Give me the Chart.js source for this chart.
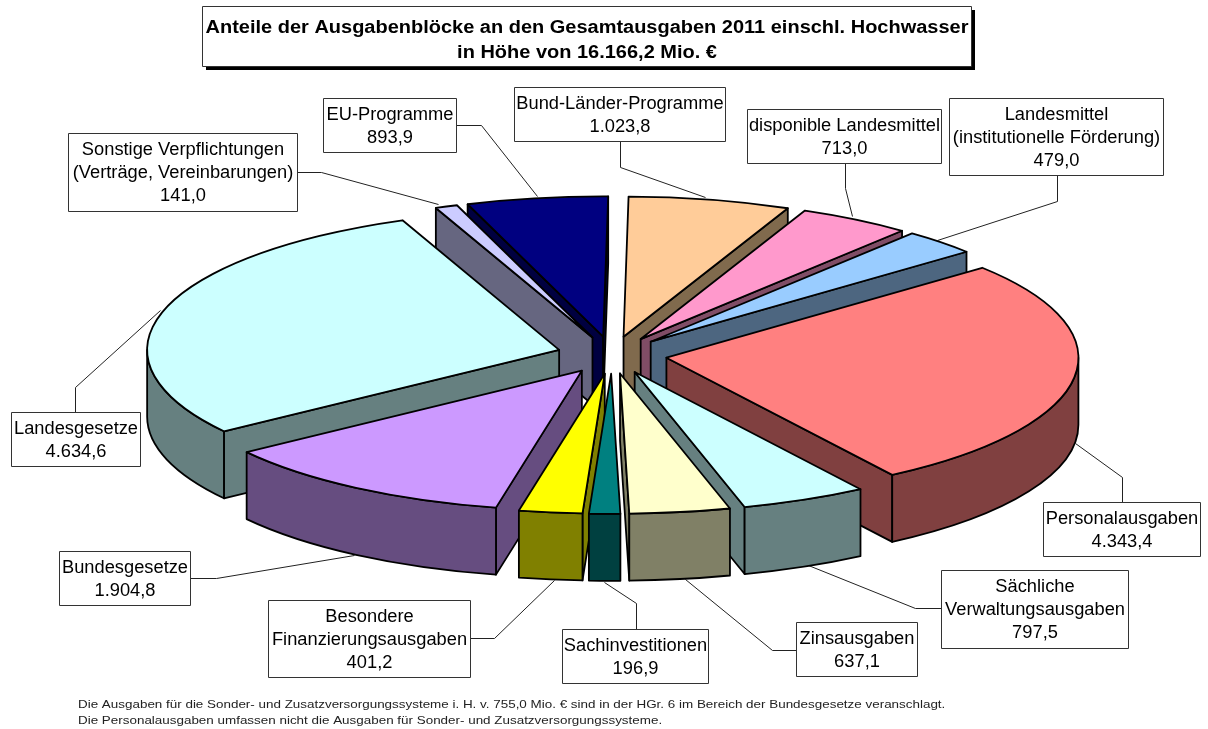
<!DOCTYPE html>
<html lang="de">
<head>
<meta charset="utf-8">
<title>Anteile der Ausgabenblöcke</title>
<script src="https://cdn.jsdelivr.net/npm/chart.js@4/dist/chart.umd.min.js"></script>
<style>
    html, body { margin: 0; padding: 0; background: #fff; }
    canvas { display: block; }
</style>
</head>
<body>
<canvas id="graficoPizza" width="1208" height="729"></canvas>
<script>
// Reihenfolge wie im Original, im Uhrzeigersinn ab 12 Uhr
const kategorien = [
    ['Bund-Länder-Programme'],
    ['disponible Landesmittel'],
    ['Landesmittel', '(institutionelle Förderung)'],
    ['Personalausgaben'],
    ['Sächliche', 'Verwaltungsausgaben'],
    ['Zinsausgaben'],
    ['Sachinvestitionen'],
    ['Besondere', 'Finanzierungsausgaben'],
    ['Bundesgesetze'],
    ['Landesgesetze'],
    ['Sonstige Verpflichtungen', '(Verträge, Vereinbarungen)'],
    ['EU-Programme']
];
const werte = [1023.8, 713.0, 479.0, 4343.4, 797.5, 637.1, 196.9, 401.2, 1904.8, 4634.6, 141.0, 893.9];
const farben = ['#FFCC99', '#FF99CC', '#99CCFF', '#FF8080', '#CCFFFF', '#FFFFCC', '#008080', '#FFFF00', '#CC99FF', '#CCFFFF', '#CCCCFF', '#000080'];
const farbenDunkel = ['#806A4D', '#804D66', '#4D6680', '#804040', '#668080', '#808066', '#004040', '#808000', '#664D80', '#668080', '#666680', '#000040'];

const titelZeilen = [
    'Anteile der Ausgabenblöcke an den Gesamtausgaben 2011 einschl. Hochwasser',
    'in Höhe von 16.166,2 Mio. €'
];
const fussnoten = [
    'Die Ausgaben für die Sonder- und Zusatzversorgungssysteme i. H. v. 755,0 Mio. € sind in der HGr. 6 im Bereich der Bundesgesetze veranschlagt.',
    'Die Personalausgaben umfassen nicht die Ausgaben für Sonder- und Zusatzversorgungssysteme.'
];

// Layout der Beschriftungen: Kasten [x, y, b, h] und Führungslinie
const kaesten = [
    [514, 87, 211, 54], [747, 109, 194, 54], [949, 98, 214, 77], [1043, 502, 157, 54],
    [941, 570, 187, 78], [796, 622, 121, 54], [562, 629, 146, 54], [268, 600, 202, 77],
    [59, 551, 131, 54], [11, 412, 129, 54], [68, 133, 229, 78], [323, 98, 133, 54]
];
const linien = [
    [[620, 141], [620, 167], [705, 197]],
    [[845, 163], [845, 188], [852, 216]],
    [[1057, 175], [1057, 201], [937, 240]],
    [[1122, 502], [1122, 477], [1075, 443]],
    [[941, 608], [915, 608], [808, 565]],
    [[796, 650], [772, 650], [685, 579]],
    [[636, 629], [636, 603], [604, 582]],
    [[470, 638], [494, 638], [554, 580]],
    [[190, 578], [216, 578], [354, 555]],
    [[75, 412], [75, 387], [160, 310]],
    [[297, 172], [321, 172], [438, 204]],
    [[456, 125], [481, 125], [537, 196]]
];

const STAUCHUNG = 0.34;   // flacher Blickwinkel
const TIEFE = 67;         // Hoehe der Scheibe
const EXPLOSION = 55;     // Abstand der Segmente vom Mittelpunkt
const SCHRIFT = '"Liberation Sans", Arial, sans-serif';

// Das Original ist in der Breite etwas gestreckt
function zeile(ctx, text, x, y, streckung, ausrichtung) {
    ctx.save();
    ctx.translate(x, y);
    ctx.scale(streckung, 1);
    ctx.textAlign = ausrichtung;
    ctx.textBaseline = 'alphabetic';
    ctx.fillText(text, 0, 0);
    ctx.restore();
}

function zeichneSegment(ctx, arc, i) {
    const mitte = (arc.startAngle + arc.endAngle) / 2;
    const x = arc.x + Math.cos(mitte) * EXPLOSION;
    const y = arc.y + Math.sin(mitte) * EXPLOSION * STAUCHUNG;
    const r = arc.outerRadius;
    const punkt = w => [x + Math.cos(w) * r, y + Math.sin(w) * r * STAUCHUNG];

    ctx.lineWidth = 1.8;
    ctx.lineJoin = 'round';
    ctx.strokeStyle = '#000';
    ctx.fillStyle = farbenDunkel[i];

    // Schnittflaechen, nur wenn sie zum Betrachter zeigen
    const sichtbar = [];
    if (Math.cos(arc.startAngle) < 0) sichtbar.push(arc.startAngle);
    if (Math.cos(arc.endAngle) > 0) sichtbar.push(arc.endAngle);
    sichtbar.forEach(w => {
        const p = punkt(w);
        ctx.beginPath();
        ctx.moveTo(x, y);
        ctx.lineTo(p[0], p[1]);
        ctx.lineTo(p[0], p[1] + TIEFE);
        ctx.lineTo(x, y + TIEFE);
        ctx.closePath();
        ctx.fill();
        ctx.stroke();
    });

    // Aussenwand, nur der vordere Teil ist sichtbar
    const von = Math.max(arc.startAngle, 0);
    const bis = Math.min(arc.endAngle, Math.PI);
    if (bis > von) {
        ctx.beginPath();
        ctx.ellipse(x, y, r, r * STAUCHUNG, 0, von, bis);
        ctx.ellipse(x, y + TIEFE, r, r * STAUCHUNG, 0, bis, von, true);
        ctx.closePath();
        ctx.fill();
        ctx.stroke();
    }

    // Deckflaeche
    ctx.beginPath();
    ctx.moveTo(x, y);
    ctx.ellipse(x, y, r, r * STAUCHUNG, 0, arc.startAngle, arc.endAngle);
    ctx.closePath();
    ctx.fillStyle = farben[i];
    ctx.fill();
    ctx.stroke();
}

function zeichneKasten(ctx, i) {
    const [x, y, b, h] = kaesten[i];
    ctx.fillStyle = '#fff';
    ctx.strokeStyle = '#333';
    ctx.lineWidth = 1;
    ctx.fillRect(x, y, b, h);
    ctx.strokeRect(x + 0.5, y + 0.5, b, h);

    const wert = werte[i].toLocaleString('de-DE', { minimumFractionDigits: 1, maximumFractionDigits: 1 });
    const zeilen = [...kategorien[i], wert];
    ctx.fillStyle = '#000';
    ctx.font = '17.5px ' + SCHRIFT;
    const start = y + h / 2 - (zeilen.length - 1) * 11.5 + 6;
    zeilen.forEach((z, n) => zeile(ctx, z, x + b / 2 + 0.5, start + n * 23, 1.045, 'center'));
}

const scheibe3d = {
    id: 'scheibe3d',
    beforeDatasetsDraw(chart) {
        const ctx = chart.ctx;
        const arcs = chart.getDatasetMeta(0).data;

        // Fuehrungslinien liegen unter den Segmenten
        ctx.strokeStyle = '#222';
        ctx.lineWidth = 1;
        linien.forEach(l => {
            ctx.beginPath();
            l.forEach((p, n) => n ? ctx.lineTo(p[0] + 0.5, p[1] + 0.5) : ctx.moveTo(p[0] + 0.5, p[1] + 0.5));
            ctx.stroke();
        });

        // von hinten nach vorne zeichnen
        const reihenfolge = arcs.map((a, i) => i).sort((a, b) => {
            const mitte = k => (arcs[k].startAngle + arcs[k].endAngle) / 2;
            return Math.sin(mitte(a)) - Math.sin(mitte(b));
        });
        reihenfolge.forEach(i => zeichneSegment(ctx, arcs[i], i));
        kategorien.forEach((k, i) => zeichneKasten(ctx, i));
        return false;
    },
    afterDraw(chart) {
        const ctx = chart.ctx;
        // Titelkasten mit Schatten
        ctx.fillStyle = '#000';
        ctx.fillRect(206, 10, 769, 60);
        ctx.fillStyle = '#fff';
        ctx.strokeStyle = '#333';
        ctx.lineWidth = 1;
        ctx.fillRect(202, 6, 769, 60);
        ctx.strokeRect(202.5, 6.5, 769, 60);

        ctx.fillStyle = '#000';
        ctx.font = 'bold 18px ' + SCHRIFT;
        zeile(ctx, titelZeilen[0], 587, 33, 1.11, 'center');
        zeile(ctx, titelZeilen[1], 587, 58, 1.11, 'center');

        ctx.fillStyle = '#222';
        ctx.font = '11.5px ' + SCHRIFT;
        zeile(ctx, fussnoten[0], 78, 708, 1.167, 'left');
        zeile(ctx, fussnoten[1], 78, 724, 1.167, 'left');
    }
};

new Chart(document.getElementById('graficoPizza'), {
    type: 'pie',
    data: {
        labels: kategorien.map(k => k.join(' ')),
        datasets: [{ data: werte, backgroundColor: farben, borderWidth: 0 }]
    },
    options: {
        responsive: false,
        animation: false,
        radius: 412,
        rotation: 0.7,
        layout: { padding: { left: 16, bottom: 19 } },
        plugins: { legend: { display: false }, tooltip: { enabled: false } }
    },
    plugins: [scheibe3d]
});
</script>
</body>
</html>
